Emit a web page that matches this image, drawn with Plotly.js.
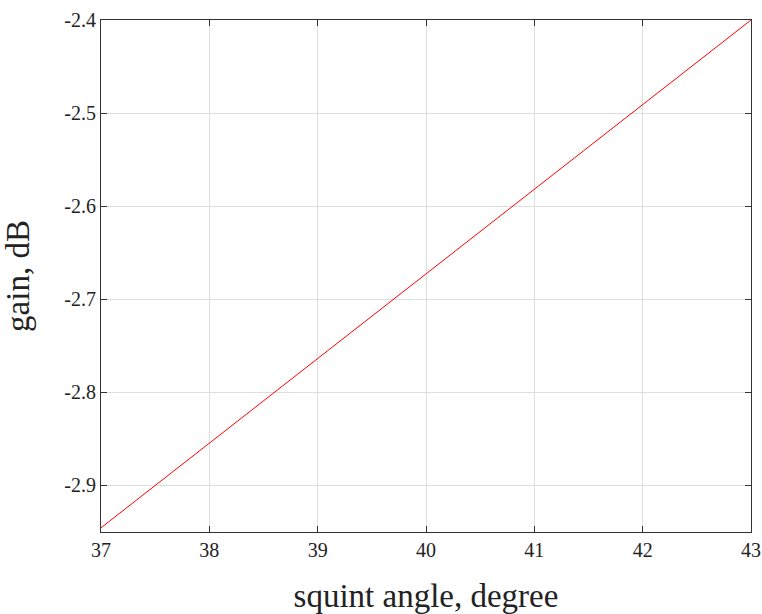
<!DOCTYPE html>
<html>
<head>
<meta charset="utf-8">
<script src="https://cdn.plot.ly/plotly-3.0.1.min.js"></script>
<style>html,body{margin:0;padding:0;background:#fff;}#chart{width:762px;height:614px;}</style>
</head>
<body>
<div id="chart"></div>
<script>
const squintAngle = [37, 38, 39, 40, 41, 42, 43];
const gainDb = [-2.946, -2.855, -2.764, -2.673, -2.582, -2.491, -2.400];
const xTicks = [37, 38, 39, 40, 41, 42, 43];
const yTicks = [-2.9, -2.8, -2.7, -2.6, -2.5, -2.4];
const serif = 'Liberation Serif';
Plotly.newPlot('chart', [{
  x: squintAngle, y: gainDb, type: 'scatter', mode: 'lines',
  line: {color: '#ff0000', width: 1}
}], {
  width: 762, height: 614,
  margin: {l: 101, r: 11, t: 20, b: 82},
  showlegend: false,
  xaxis: {
    range: [37, 43], tickvals: xTicks, ticktext: xTicks.map(String),
    showline: true, linecolor: '#333', mirror: 'ticks',
    ticks: 'inside', ticklen: 6, tickcolor: '#333',
    gridcolor: '#dedede', zeroline: false,
    tickfont: {family: serif, size: 20, color: '#222'},
    title: {text: 'squint angle, degree', font: {family: serif, size: 33, color: '#222'}}
  },
  yaxis: {
    range: [-2.9505, -2.4], tickvals: yTicks, ticktext: yTicks.map(v => v.toFixed(1)),
    showline: true, linecolor: '#333', mirror: 'ticks',
    ticks: 'inside', ticklen: 6, tickcolor: '#333',
    gridcolor: '#dedede', zeroline: false,
    tickfont: {family: serif, size: 20, color: '#222'},
    title: {text: 'gain, dB', font: {family: serif, size: 33, color: '#222'}}
  }
}, {displayModeBar: false, staticPlot: true}).then(gd => {
  return (document.fonts ? document.fonts.ready : Promise.resolve()).then(() => Plotly.relayout(gd, {}));
}).then(() => {
  document.querySelectorAll('.xtick text, .ytick text').forEach(t => {
    t.style.fontFamily = '"Liberation Serif"';
    t.style.fontSize = '20px';
    t.style.fill = '#222';
  });
});
</script>
</body>
</html>
